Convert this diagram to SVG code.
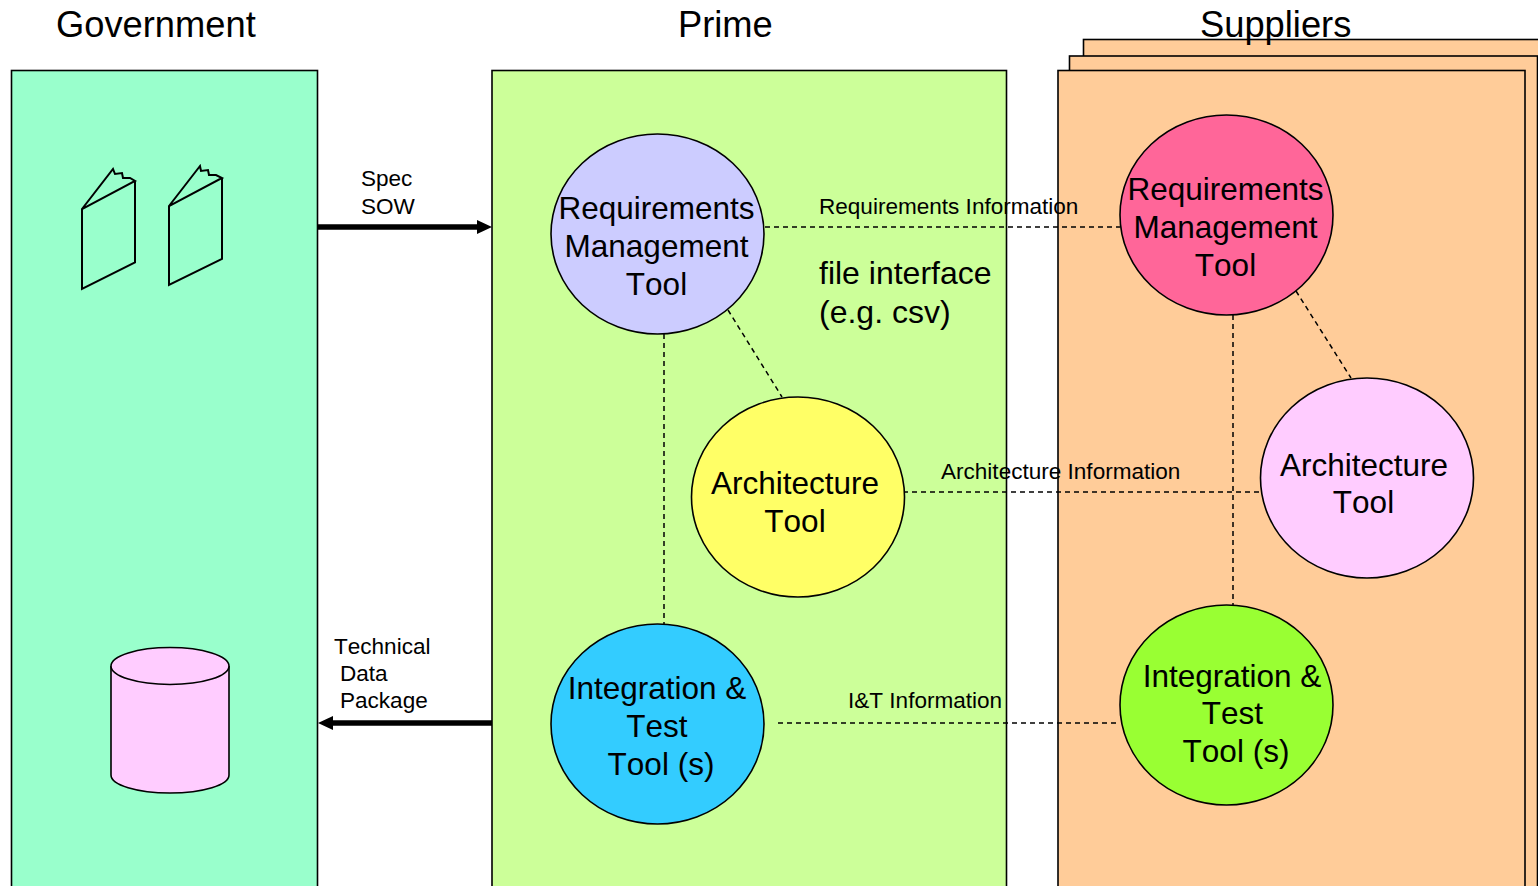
<svg xmlns="http://www.w3.org/2000/svg" width="1538" height="886" viewBox="0 0 1538 886">
<style>
text{font-family:"Liberation Sans",Arial,sans-serif;fill:#000;font-kerning:none}
.t{font-size:36.300px}.n{font-size:31.500px;text-anchor:middle}.s{font-size:22.550px}.f{font-size:32px}
.b{stroke:#000;stroke-width:1.600}
.d{fill:none;stroke:#000;stroke-width:1.500;stroke-dasharray:5 4}
.a{fill:none;stroke:#000;stroke-width:5.500}
.o{fill:none;stroke:#000;stroke-width:2}
</style>
<rect width="1538" height="886" fill="#fff"/>
<g id="government"><rect class="b" x="11.500" y="70.500" width="306" height="830" fill="#99ffcc"/>
<text class="t" x="56" y="37">Government</text>
<g id="doc1"><path class="o" d="M82 209L113 169L115 174L122 173L123 178L130 178L135 181L82 209V289L135 262.500V181"/></g>
<g id="doc2"><path class="o" d="M169 206L200 166L201 171L208 170L209 175L216 175L222 178L169 206V285L222 259V178"/></g>
<g id="database"><path class="b" fill="#ffccff" d="M111 666V775C111 785 137 793 170 793C203 793 229 785 229 775V666"/><ellipse class="b" cx="170" cy="666" rx="59" ry="18.500" fill="#ffccff"/></g>
</g>
<g id="prime"><rect class="b" x="492" y="70.500" width="514.500" height="830" fill="#ccff99"/>
<text class="t" x="678" y="37">Prime</text></g>
<g id="suppliers">
<rect class="b" x="1083.500" y="39.500" width="480" height="860" fill="#ffcc99"/>
<rect class="b" x="1069.500" y="56" width="468" height="860" fill="#ffcc99"/>
<rect class="b" x="1058" y="70.500" width="467" height="830" fill="#ffcc99"/>
<text class="t" x="1200" y="37">Suppliers</text></g>
<g id="connectors">
<path class="a" d="M318 227H480"/><path d="M492 227L477 220V234Z"/>
<path class="a" d="M492 723H332"/><path d="M318 723L333 716V730Z"/>
<path class="d" d="M765 227H1120M728 310L782 397M664 334V624M903 492H1260M778 723H1120M1296 291L1351 378M1233 315V605"/>
</g>
<g id="pm-req"><ellipse class="b" cx="657.500" cy="234" rx="106.500" ry="100" fill="#ccccff"/><text class="n"><tspan x="656.500" y="219">Requirements</tspan><tspan x="656.500" y="257">Management</tspan><tspan x="656.500" y="295">Tool</tspan></text></g>
<g id="pm-arch"><ellipse class="b" cx="798" cy="497" rx="106.500" ry="100" fill="#ffff66"/><text class="n"><tspan x="795" y="494">Architecture</tspan><tspan x="795" y="532">Tool</tspan></text></g>
<g id="pm-it"><ellipse class="b" cx="657.500" cy="724" rx="106.500" ry="100" fill="#33ccff"/><text class="n"><tspan x="657" y="699">Integration &amp;</tspan><tspan x="657" y="737">Test</tspan><tspan x="661" y="775">Tool (s)</tspan></text></g>
<g id="su-req"><ellipse class="b" cx="1226.500" cy="215" rx="106.500" ry="100" fill="#ff6699"/><text class="n"><tspan x="1225.500" y="200">Requirements</tspan><tspan x="1225.500" y="238">Management</tspan><tspan x="1225.500" y="276">Tool</tspan></text></g>
<g id="su-arch"><ellipse class="b" cx="1367" cy="478" rx="106.500" ry="100" fill="#ffccff"/><text class="n"><tspan x="1364" y="476">Architecture</tspan><tspan x="1363.500" y="513">Tool</tspan></text></g>
<g id="su-it"><ellipse class="b" cx="1226.500" cy="705" rx="106.500" ry="100" fill="#99ff33"/><text class="n"><tspan x="1232" y="687">Integration &amp;</tspan><tspan x="1232.500" y="724">Test</tspan><tspan x="1236" y="762">Tool (s)</tspan></text></g>
<g id="labels">
<text class="s" x="361" y="186">Spec</text><text class="s" x="361" y="214">SOW</text>
<text class="s" x="334" y="654">Technical</text><text class="s" x="340" y="681">Data</text><text class="s" x="340" y="708">Package</text>
<text class="s" x="819" y="214">Requirements Information</text>
<text class="f" x="819" y="284">file interface</text><text class="f" x="819" y="323">(e.g. csv)</text>
<text class="s" x="941" y="479">Architecture Information</text>
<text class="s" x="848" y="708">I&amp;T Information</text>
</g>
</svg>
